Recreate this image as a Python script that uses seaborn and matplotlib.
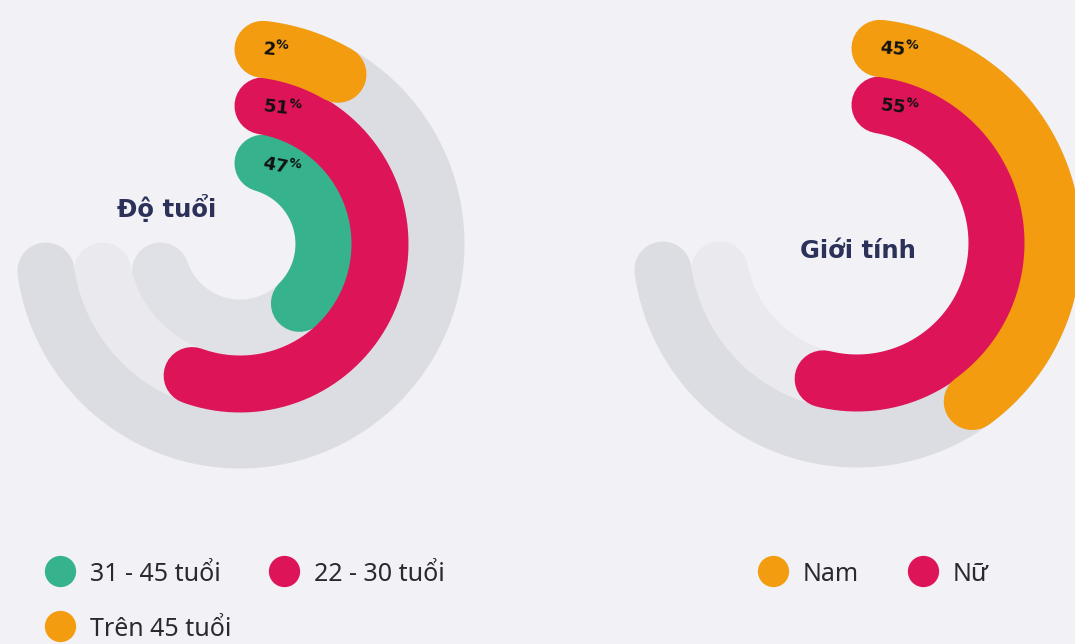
"""
Radial bar infographic: audience by age group and by gender.
"""

# ------------------------------------------------------------------
# 1. Imports
# ------------------------------------------------------------------
import numpy as np
import matplotlib.pyplot as plt
from matplotlib.lines import Line2D
import seaborn as sns

# ------------------------------------------------------------------
# 2. Data
# ------------------------------------------------------------------
#   share = the printed percentage, arc_end = where the drawn bar stops
#   (degrees clockwise from 12 o'clock - the
#   infographic does not draw the bars to scale).
age_groups = ["31 - 45 tuổi", "22 - 30 tuổi", "Trên 45 tuổi"]   # inner -> outer ring
age_share = [47, 51, 2]
age_arc_end = [135, 200, 30]

gender_groups = ["Nữ", "Nam"]                                  # inner -> outer ring
gender_share = [55, 45]
gender_arc_end = [194, 144]

# ------------------------------------------------------------------
# 3. Style
# ------------------------------------------------------------------
sns.set_theme(style="white")
plt.rcParams["font.family"] = ["Noto Sans", "DejaVu Sans"]

BG = "#f1f1f6"
GREEN, PINK, ORANGE = "#36b28d", "#de1459", "#f39c10"
TRACK_GRAYS = ["#e0e1e6", "#e9e9ee", "#dcdde2"]   # inner, middle, outer
TITLE_COLOR = "#2b3159"
TEXT_COLOR = "#2a2a2e"

W, H = 1075, 644
RADII = [84, 140, 196]          # ring centre lines in pixels
BAND = 57                       # ring thickness in pixels
LW = BAND * 72 / 100            # -> points at dpi 100
START_DX = 23                   # start caps line up this far right of centre
END_DY = 27                     # track ends line up this far below centre

age_colors = [GREEN, PINK, ORANGE]
gender_colors = [PINK, ORANGE]

fig = plt.figure(figsize=(W / 100, H / 100), dpi=100, facecolor=BG)


def polar_axes(cx, cy, R=240):
    ax = fig.add_axes([(cx - R) / W, 1 - (cy + R) / H, 2 * R / W, 2 * R / H],
                      projection="polar")
    ax.set_theta_zero_location("N")
    ax.set_theta_direction(-1)
    ax.patch.set_alpha(0)
    return ax, R


def arc(ax, r, a0, a1, color):
    theta = np.radians(np.linspace(a0, a1, 240))
    sns.lineplot(x=theta, y=np.full_like(theta, r), ax=ax, color=color,
                 linewidth=LW, solid_capstyle="round", estimator=None,
                 sort=False, legend=False)


def radial_chart(cx, cy, shares, ends, colors, title, title_xy):
    ax, R = polar_axes(cx, cy)
    n = len(shares)
    radii = RADII[-n:]
    grays = TRACK_GRAYS[-n:]
    # gray background tracks
    for r, g in zip(radii, grays):
        start = np.degrees(np.arcsin(START_DX / r))
        stop = 270 - np.degrees(np.arcsin(END_DY / r))
        arc(ax, r, start, stop, g)
    # coloured bars, inner first so outer rings sit on top
    for r, v, end, c in zip(radii, shares, ends, colors):
        start = np.degrees(np.arcsin(START_DX / r))
        arc(ax, r, start, end, c)
        ax.text(np.radians(start), r, f"$\\mathbf{{{v}}}^{{\\mathbf{{\\%}}}}$",
                ha="left", va="center", fontsize=13, color="#111111",
                rotation=-0.7 * start, rotation_mode="anchor")
    ax.set_ylim(0, R)
    ax.set_xlabel("")
    ax.set_ylabel("")
    ax.axis("off")
    fig.text(title_xy[0] / W, 1 - title_xy[1] / H, title, ha="center",
             va="center", fontsize=17.5, fontweight="bold",
             family="DejaVu Sans", color=TITLE_COLOR)


radial_chart(240, 244, age_share, age_arc_end, age_colors, "Độ tuổi", (167, 208))
radial_chart(857, 243, gender_share, gender_arc_end, gender_colors, "Giới tính", (858, 251))

# ------------------------------------------------------------------
# 4. Legends (column-major fill, so order is row1-left, row2-left, row1-right)
# ------------------------------------------------------------------
def dot(c):
    return Line2D([], [], marker="o", linestyle="none", markersize=21.5,
                  markerfacecolor=c, markeredgecolor=c)


legend_kw = dict(loc="upper left", ncol=2, frameon=False, fontsize=18,
                 handlelength=1.2, handleheight=1.2, handletextpad=0.6,
                 labelspacing=1.12, borderpad=0, borderaxespad=0,
                 labelcolor=TEXT_COLOR)

fig.legend([dot(age_colors[0]), dot(age_colors[2]), dot(age_colors[1])],
           [age_groups[0], age_groups[2], age_groups[1]],
           bbox_to_anchor=(45 / W, 1 - 560 / H), columnspacing=1.5, **legend_kw)
fig.legend([dot(gender_colors[1]), dot(gender_colors[0])],
           [gender_groups[1], gender_groups[0]],
           bbox_to_anchor=(758 / W, 1 - 560 / H), columnspacing=1.95, **legend_kw)

plt.savefig("out.png", dpi=100, facecolor=BG)
